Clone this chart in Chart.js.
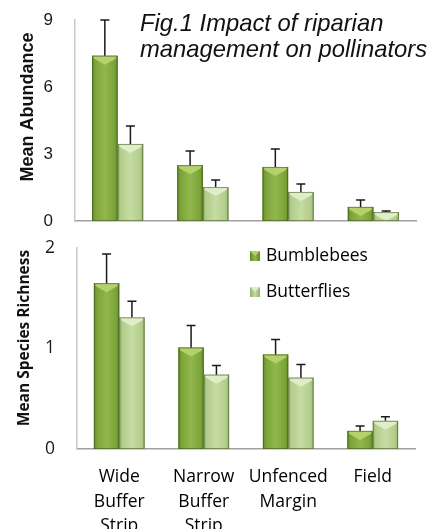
<!DOCTYPE html>
<html>
<head>
<meta charset="utf-8">
<script src="https://cdn.jsdelivr.net/npm/chart.js@4.4.0/dist/chart.umd.min.js"></script>
<style>
  html, body { margin: 0; padding: 0; background: #fff; }
  #wrap { position: relative; width: 444px; height: 529px; overflow: hidden; }
  #topBox { position: absolute; left: 0; top: 0; width: 444px; height: 232px; }
  #botBox { position: absolute; left: 0; top: 232px; width: 444px; height: 297px; }
</style>
</head>
<body>
<div id="wrap">
  <div id="topBox"><canvas id="topChart"></canvas></div>
  <div id="botBox"><canvas id="botChart"></canvas></div>
</div>
<script>
// data
const sites = [["Wide", "Buffer", "Strip"], ["Narrow", "Buffer", "Strip"], ["Unfenced", "Margin"], ["Field"]];
const seriesNames = ["Bumblebees", "Butterflies"];

const abundBees = [7.4, 2.5, 2.42, 0.63];
const abundBeesErr = [1.6, 0.63, 0.8, 0.31];
const abundFlies = [3.45, 1.52, 1.3, 0.4];
const abundFliesErr = [0.8, 0.32, 0.36, 0.05];

const richBees = [1.65, 1.01, 0.94, 0.18];
const richBeesErr = [0.29, 0.22, 0.15, 0.05];
const richFlies = [1.31, 0.74, 0.71, 0.28];
const richFliesErr = [0.16, 0.09, 0.13, 0.04];

const abundMax = 9, abundStep = 3;
const richMax = 2, richStep = 1;

const figTitle = ["Fig.1 Impact of riparian", "management on pollinators"];
const abundTitle = "Mean Abundance";
const richTitle = "Mean Species Richness";

// colours: [base, edge, centre, bevel]
const beeCols = ["#7ca33a", "#5d8a22", "#92b84c", "#b4d16c"];
const flyCols = ["#b3cd8b", "#95b170", "#c5dba3", "#e0edc9"];

// shade bars, add top bevel and error bars
const barDeco = {
  id: "barDeco",
  afterDatasetsDraw(chart) {
    const ctx = chart.ctx;
    const y = chart.scales.y;
    chart.data.datasets.forEach((ds, di) => {
      const meta = chart.getDatasetMeta(di);
      const c = ds.cols;
      meta.data.forEach((bar, i) => {
        const l = bar.x - bar.width / 2, r = bar.x + bar.width / 2;
        const t = bar.y, b = bar.base;
        ctx.save();
        let g = ctx.createLinearGradient(l, 0, r, 0);
        g.addColorStop(0, c[1]);
        g.addColorStop(0.12, c[0]);
        g.addColorStop(0.5, c[2]);
        g.addColorStop(0.88, c[0]);
        g.addColorStop(1, c[1]);
        ctx.fillStyle = g;
        ctx.fillRect(l, t, r - l, b - t);
        // bevel on top
        const d = Math.min(9, (b - t));
        ctx.beginPath();
        ctx.moveTo(l + 1, t);
        ctx.lineTo(r - 1, t);
        ctx.lineTo(r - 2, t + Math.min(3, d));
        ctx.lineTo(bar.x, t + d);
        ctx.lineTo(l + 2, t + Math.min(3, d));
        ctx.closePath();
        ctx.fillStyle = c[3];
        ctx.fill();
        ctx.strokeStyle = "rgba(60,80,30,0.55)";
        ctx.lineWidth = 1;
        ctx.strokeRect(l + 0.5, t + 0.5, r - l - 1, b - t - 1);
        // error bar
        const top = y.getPixelForValue(ds.data[i] + ds.err[i]);
        ctx.strokeStyle = "#1a1a1a";
        ctx.lineWidth = 1.5;
        ctx.beginPath();
        ctx.moveTo(bar.x, t);
        ctx.lineTo(bar.x, top);
        ctx.moveTo(bar.x - 4.5, top);
        ctx.lineTo(bar.x + 4.5, top);
        ctx.stroke();
        ctx.restore();
      });
    });
  }
};

// rotated y titles, figure title and legend
const textDeco = {
  id: "textDeco",
  afterDraw(chart, args, opts) {
    const ctx = chart.ctx;
    ctx.save();
    ctx.fillStyle = "#111";
    ctx.translate(opts.yTitleX, opts.yTitleY);
    ctx.rotate(-Math.PI / 2);
    ctx.font = opts.yTitleFont;
    ctx.textAlign = "center";
    ctx.textBaseline = "middle";
    ctx.fillText(opts.yTitle, 0, 0);
    ctx.restore();

    if (opts.title) {
      ctx.save();
      ctx.fillStyle = "#111";
      ctx.font = "italic 23.8px 'Liberation Sans', Arial, sans-serif";
      ctx.textAlign = "left";
      ctx.textBaseline = "alphabetic";
      opts.title.forEach((line, k) => ctx.fillText(line, 140, 31 + k * 26));
      ctx.restore();
    }

    if (opts.legend) {
      ctx.save();
      chart.data.datasets.forEach((ds, k) => {
        const cy = 24 + k * 36;
        const g = ctx.createLinearGradient(250, 0, 260, 0);
        g.addColorStop(0, ds.cols[1]);
        g.addColorStop(0.5, ds.cols[2]);
        g.addColorStop(1, ds.cols[1]);
        ctx.fillStyle = g;
        ctx.fillRect(250, cy - 5, 10, 10);
        ctx.fillStyle = ds.cols[3];
        ctx.beginPath();
        ctx.moveTo(250, cy - 5);
        ctx.lineTo(260, cy - 5);
        ctx.lineTo(255, cy);
        ctx.closePath();
        ctx.fill();
        ctx.fillStyle = "#000";
        ctx.font = "17.5px 'Open Sans', sans-serif";
        ctx.textBaseline = "middle";
        ctx.fillText(ds.label, 266, cy);
      });
      ctx.restore();
    }
  }
};

function makeDatasets(bees, beesErr, flies, fliesErr) {
  return [
    { label: seriesNames[0], data: bees, err: beesErr, cols: beeCols, backgroundColor: beeCols[0],
      categoryPercentage: 0.6, barPercentage: 1.0 },
    { label: seriesNames[1], data: flies, err: fliesErr, cols: flyCols, backgroundColor: flyCols[0],
      categoryPercentage: 0.6, barPercentage: 1.0 }
  ];
}

Chart.defaults.animation = false;

new Chart(document.getElementById("topChart"), {
  type: "bar",
  data: { labels: sites, datasets: makeDatasets(abundBees, abundBeesErr, abundFlies, abundFliesErr) },
  options: {
    responsive: true,
    maintainAspectRatio: false,
    layout: { padding: { top: 20, right: 28, left: 0, bottom: 0 } },
    plugins: {
      legend: { display: false },
      tooltip: { enabled: false },
      textDeco: { yTitle: abundTitle, yTitleX: 28, yTitleY: 107,
        yTitleFont: "bold 18px 'Liberation Sans', Arial, sans-serif", title: figTitle }
    },
    scales: {
      x: {
        grid: { display: false, drawTicks: false },
        border: { display: true, color: "#a0a0a0", width: 1.5 },
        ticks: { display: false },
        afterFit: (s) => { s.height = 11; }
      },
      y: {
        min: 0, max: abundMax,
        grid: { display: false, drawTicks: true, tickLength: 22 },
        border: { display: true, color: "#c8c8c8", width: 1.5 },
        ticks: { stepSize: abundStep, padding: 0, color: "#1a1a1a",
          font: { family: "'Liberation Sans', Arial, sans-serif", size: 17 } },
        afterFit: (s) => { s.width = 75; }
      }
    }
  },
  plugins: [barDeco, textDeco]
});

new Chart(document.getElementById("botChart"), {
  type: "bar",
  data: { labels: sites, datasets: makeDatasets(richBees, richBeesErr, richFlies, richFliesErr) },
  options: {
    responsive: true,
    maintainAspectRatio: false,
    layout: { padding: { top: 16, right: 29, left: 0, bottom: 0 } },
    plugins: {
      legend: { display: false },
      tooltip: { enabled: false },
      textDeco: { yTitle: richTitle, yTitleX: 25, yTitleY: 106,
        yTitleFont: "bold 15.5px 'Open Sans', sans-serif", legend: true }
    },
    scales: {
      x: {
        grid: { display: false, drawTicks: false },
        border: { display: true, color: "#a0a0a0", width: 1.5 },
        ticks: { padding: 16, color: "#000", maxRotation: 0, autoSkip: false,
          font: { family: "'Open Sans', sans-serif", size: 17.5, lineHeight: 1.4 } },
        afterFit: (s) => { s.height = 80; }
      },
      y: {
        min: 0, max: richMax,
        grid: { display: false, drawTicks: true, tickLength: 22 },
        border: { display: true, color: "#c8c8c8", width: 1.5 },
        ticks: { stepSize: richStep, padding: 0, color: "#1a1a1a",
          font: { family: "'Open Sans', sans-serif", size: 17.5 } },
        afterFit: (s) => { s.width = 77; }
      }
    }
  },
  plugins: [barDeco, textDeco]
});
</script>
</body>
</html>
